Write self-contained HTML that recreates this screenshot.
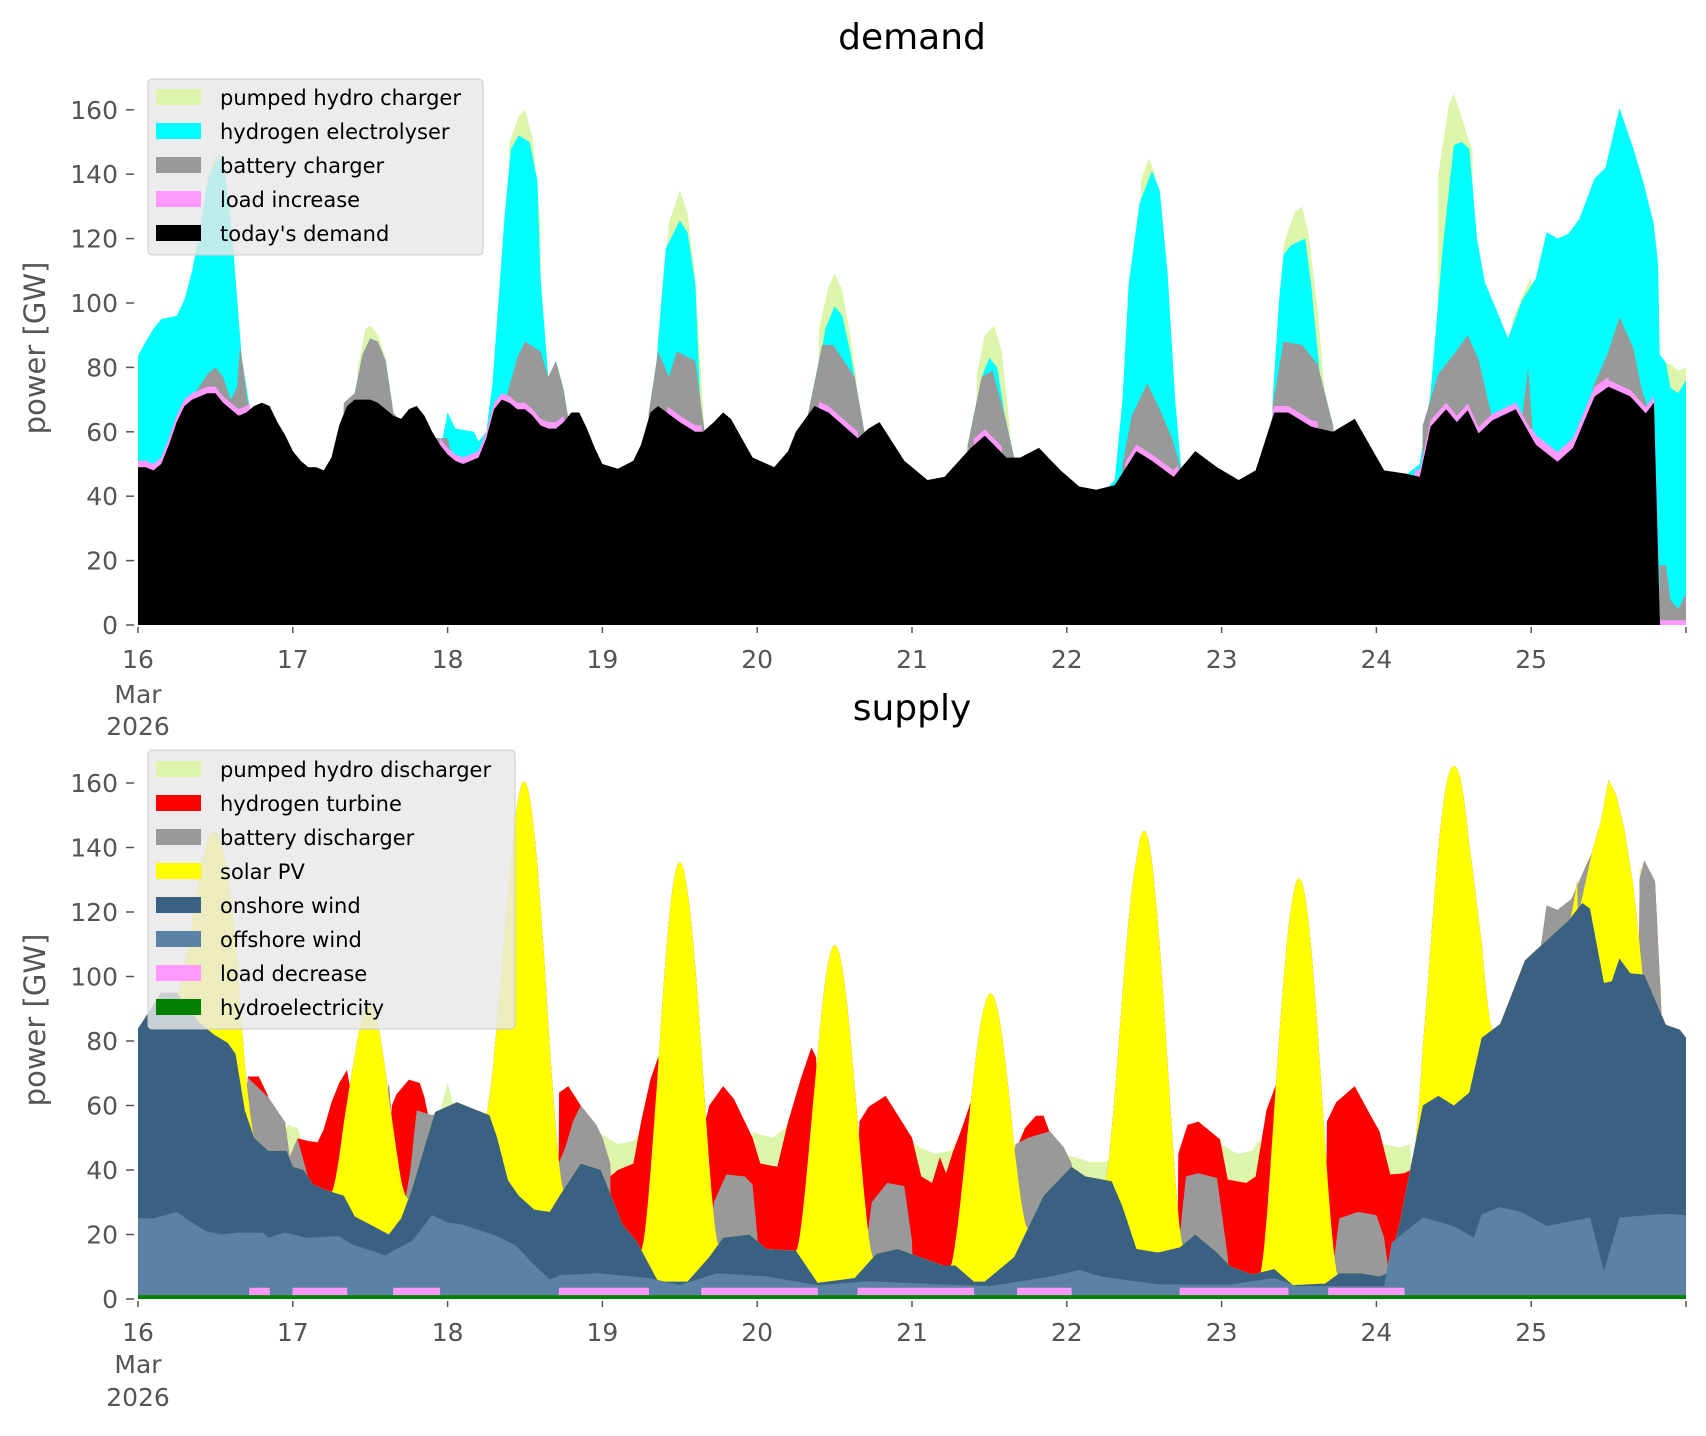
<!DOCTYPE html>
<html><head><meta charset="utf-8"><style>
html,body{margin:0;padding:0;background:#fff;}
svg text{font-family:"DejaVu Sans","Liberation Sans",sans-serif;}
</style></head><body>
<svg id="s" width="1706" height="1431" xmlns="http://www.w3.org/2000/svg">
<rect width="1706" height="1431" fill="#fff"/>
<g id="plots"></g>
<g id="axes" fill="#555" font-size="25"></g>
<text x="912" y="49" font-size="36" text-anchor="middle" fill="#000">demand</text>
<text x="912" y="720" font-size="36" text-anchor="middle" fill="#000">supply</text>
<text transform="translate(45,348) rotate(-90)" font-size="29" text-anchor="middle" fill="#555">power [GW]</text>
<text transform="translate(45,1020) rotate(-90)" font-size="29" text-anchor="middle" fill="#555">power [GW]</text>
<g id="leg" font-size="21" fill="#000"></g>
</svg>
<script>
const NS="http://www.w3.org/2000/svg";
const X=t=>138+(t-16)*154.8;
const YT=v=>625-v*3.22, YB=v=>1299-v*3.225;
function interp(p,t){if(t<p[0][0]||t>p[p.length-1][0])return null;for(let i=1;i<p.length;i++){if(t<=p[i][0]){const a=p[i-1],b=p[i];if(b[0]==a[0])return b[1];return a[1]+(b[1]-a[1])*(t-a[0])/(b[0]-a[0]);}}return p[p.length-1][1];}
function seg(S,t){let m=-1e9;for(const s of S){const v=interp(s,t);if(v!==null&&v>m)m=v;}return m;}
const D=[[16,49],[16.05,49],[16.1,48],[16.15,50],[16.2,56],[16.25,63],[16.3,68],[16.35,70],[16.4,71],[16.45,72],[16.5,72],[16.55,69],[16.6,67],[16.65,65],[16.7,66],[16.75,68],[16.8,69],[16.85,68],[16.9,63],[16.95,59],[17,54],[17.05,51],[17.1,49],[17.15,49],[17.2,48],[17.25,52],[17.3,62],[17.35,68],[17.4,70],[17.5,70],[17.55,69],[17.6,67],[17.65,65],[17.7,64],[17.75,67],[17.8,68],[17.85,65],[17.9,60],[17.95,56],[18,53],[18.05,51],[18.1,50],[18.15,51],[18.2,52],[18.25,58],[18.3,67],[18.35,70],[18.4,69],[18.45,67],[18.5,67],[18.55,65],[18.6,62],[18.65,61],[18.7,61],[18.75,63],[18.8,66],[18.85,66],[18.9,61],[18.95,55],[19,50],[19.1,48.5],[19.2,51],[19.25,56],[19.31,66],[19.36,68],[19.5,63],[19.6,60],[19.65,60],[19.72,63],[19.78,66],[19.83,64],[19.97,52],[20.11,49],[20.2,54],[20.25,60],[20.37,68],[20.46,66],[20.65,58],[20.72,61],[20.79,63],[20.95,51],[21.1,45],[21.21,46],[21.38,55],[21.47,58.8],[21.61,52],[21.7,52],[21.82,55],[21.96,48],[22.08,43],[22.19,42],[22.31,43.4],[22.45,54],[22.55,51],[22.69,46],[22.83,54],[22.97,49],[23.11,45],[23.22,48],[23.34,66],[23.43,66],[23.58,61.6],[23.72,60],[23.86,64],[24.05,48],[24.19,47],[24.28,46],[24.35,61.6],[24.45,67],[24.52,63],[24.59,66.7],[24.66,59.5],[24.75,63.6],[24.9,67],[25.03,56],[25.17,50.7],[25.27,55],[25.41,71],[25.5,74],[25.64,71],[25.74,65.7],[25.793,69],[25.832,0],[26,0]];
const PR=[[16,16.72],[17.95,18.75],[19.42,19.64],[20.4,20.65],[21.4,21.58],[22.38,22.72],[23.33,23.62],[24.25,25.83]];
const GD=[[[16.38,73],[16.45,78],[16.5,80],[16.55,77],[16.6,70],[16.64,74],[16.66,87],[16.7,72],[16.72,66]],[[17.33,69],[17.4,72],[17.45,84],[17.5,89],[17.55,88],[17.6,82],[17.65,66],[17.68,64]],[[17.88,60],[17.9,58],[18.0,58],[18.02,54]],[[18.38,71],[18.45,83],[18.5,88],[18.6,85],[18.65,77],[18.7,82],[18.75,73],[18.78,64]],[[19.3,66],[19.36,85],[19.43,77],[19.48,85],[19.6,82],[19.66,60]],[[20.33,66],[20.42,87],[20.49,87],[20.56,82],[20.63,77],[20.7,58]],[[21.36,56],[21.45,77],[21.52,79],[21.6,65],[21.66,52]],[[22.36,50],[22.42,65],[22.52,75],[22.6,67],[22.68,58],[22.74,48]],[[23.33,68],[23.4,88],[23.52,87],[23.62,81],[23.72,62]],[[24.3,62],[24.4,78],[24.5,84],[24.59,90],[24.66,82.5],[24.71,72],[24.75,64]],[[24.93,60],[24.98,80],[25.01,60]],[[25.4,74],[25.5,85],[25.57,95.6],[25.66,86],[25.71,74],[25.75,68]],[[25.83,18.6],[25.87,18.6],[25.9,7.8],[25.95,5],[26,9.7]]];
const CD=[[[16,83.6],[16.05,88],[16.1,92],[16.15,95],[16.25,96],[16.3,101],[16.35,110],[16.4,123],[16.45,138],[16.5,144],[16.55,145],[16.6,125],[16.62,114],[16.67,83],[16.72,68]],[[17.96,56],[18.0,66],[18.05,61],[18.17,60],[18.2,57],[18.25,60],[18.29,75],[18.34,108],[18.37,128],[18.41,148],[18.46,152],[18.53,150],[18.58,138],[18.6,108],[18.65,77],[18.69,64],[18.72,62]],[[19.33,70],[19.38,100],[19.41,117],[19.5,125.6],[19.55,122],[19.6,106],[19.64,60]],[[20.4,80],[20.44,92],[20.5,99],[20.55,96],[20.6,85],[20.63,77]],[[21.45,77],[21.5,83],[21.55,80],[21.6,65]],[[22.25,42],[22.31,45],[22.36,70],[22.4,106],[22.47,131],[22.55,141],[22.6,135],[22.65,110],[22.7,70],[22.74,48]],[[23.33,70],[23.37,100],[23.4,115],[23.45,118],[23.54,120],[23.58,105],[23.63,80],[23.68,62]],[[24.2,47],[24.28,50],[24.35,72],[24.43,118],[24.5,149],[24.55,150],[24.6,148],[24.65,120],[24.7,106.5],[24.8,95],[24.85,89],[24.94,100.8],[25.03,107.6],[25.1,122],[25.17,120],[25.24,121.5],[25.31,126],[25.41,138.7],[25.48,142],[25.57,160.5],[25.66,148],[25.73,136.5],[25.79,125],[25.82,112],[25.83,84],[25.87,81.5],[25.9,73.6],[25.95,72],[26,76]]];
const PD=[[[16.45,140],[16.5,146],[16.55,146],[16.6,126]],[[17.42,80],[17.47,92],[17.5,93],[17.55,90],[17.6,83],[17.65,66]],[[18.4,150],[18.46,158],[18.5,160],[18.55,151],[18.6,125]],[[19.36,88],[19.43,125],[19.5,135],[19.55,128],[19.6,108],[19.66,60]],[[20.4,92],[20.46,105],[20.5,109],[20.55,104],[20.6,90],[20.64,77]],[[21.42,78],[21.47,90],[21.53,93],[21.58,85],[21.63,62]],[[22.48,138],[22.53,145],[22.57,140],[22.62,120]],[[23.4,118],[23.47,128],[23.52,130],[23.56,122],[23.62,98],[23.68,65]],[[24.4,140],[24.47,162],[24.5,165],[24.55,158],[24.6,150],[24.62,148]],[[24.88,95],[24.95,103],[25.0,108]],[[25.86,82],[25.9,81],[25.95,79],[26,80]]];
// supply
const LDR=[[16.72,16.85],[17.0,17.35],[17.65,17.95],[18.72,19.3],[19.64,20.39],[20.65,21.4],[21.68,22.03],[22.73,23.43],[23.69,24.18]];
const OFF=[[16,25],[16.1,25],[16.25,27],[16.34,24],[16.44,21],[16.54,20],[16.64,20.6],[16.81,20.6],[16.84,19],[16.95,20.6],[17.08,19],[17.3,19.5],[17.38,17],[17.6,13.5],[17.65,15],[17.77,18],[17.9,26],[18.0,23.7],[18.1,23],[18.32,19.5],[18.44,16.6],[18.54,11.5],[18.66,6],[18.73,7.4],[18.97,8],[19.3,6.5],[19.5,4.3],[19.74,8],[20.06,7],[20.39,4.3],[20.72,5.5],[21.2,4.5],[21.5,4],[21.9,7],[22.08,9],[22.22,7],[22.59,4.5],[23.06,4.5],[23.34,6.5],[23.48,4],[24.05,4],[24.1,17.5],[24.3,25.3],[24.5,22.6],[24.63,19],[24.68,26.3],[24.8,28.5],[24.94,26.9],[25.1,22.6],[25.38,25.3],[25.47,8.6],[25.57,25.3],[25.87,26.4],[26,26]];
const ON=[[16,83.8],[16.15,95],[16.25,95],[16.39,86],[16.49,82],[16.58,79.4],[16.63,76],[16.69,58.5],[16.75,50],[16.84,46],[16.96,46],[17,41],[17.07,40],[17.13,35.6],[17.2,34],[17.33,32],[17.4,25.6],[17.48,23.6],[17.62,20],[17.7,25],[17.77,34],[17.85,47],[17.92,58],[18.06,61],[18.19,58.5],[18.27,57],[18.32,50],[18.39,36.8],[18.46,32],[18.56,27.7],[18.66,27],[18.73,32.5],[18.86,42],[18.99,40],[19.13,23],[19.22,18],[19.36,5.4],[19.55,5.4],[19.69,13],[19.78,19],[19.95,20],[20.06,15.5],[20.25,15],[20.39,5],[20.63,6.5],[20.77,14],[20.91,15.5],[21.05,13],[21.2,10.4],[21.28,10.4],[21.4,5.4],[21.47,5.4],[21.66,13],[21.85,32],[22.03,41],[22.12,38],[22.29,36.5],[22.36,28.6],[22.45,15.5],[22.59,14.4],[22.73,16],[22.83,20],[22.97,14.4],[23.06,10],[23.2,7.6],[23.34,9.3],[23.46,4.3],[23.67,4.8],[23.76,8],[23.9,8],[24.02,7],[24.07,8],[24.15,23.5],[24.3,60],[24.4,63],[24.5,60],[24.6,64],[24.68,81],[24.8,85.3],[24.96,105],[25.05,109],[25.24,117.3],[25.33,122.8],[25.38,121],[25.47,98],[25.52,98.5],[25.57,105.6],[25.64,101],[25.73,100.6],[25.87,85],[25.96,83.5],[26,81]];
const SOL=[63,68,130,130,104,88,130,126,105,58];
const SOL25=[[25.3,118],[25.4,140],[25.45,148],[25.5,161],[25.55,156],[25.6,146],[25.66,128],[25.7,110],[25.75,85]];
const BAT=[[[16.69,60],[16.71,68.6],[16.84,62.6],[16.95,54.8],[16.98,44],[17.03,49.8],[17.1,37.5],[17.13,35]],[[17.58,50],[17.62,67],[17.66,45],[17.7,34],[17.72,29],[17.76,40],[17.8,58.5],[17.9,57],[18.0,58.5],[18.05,60]],[[18.7,40],[18.76,47],[18.81,55],[18.86,60],[18.96,54],[19.0,50],[19.05,42]],[[19.68,15],[19.72,30],[19.8,38.6],[19.92,38],[19.97,35.5],[20.0,20]],[[20.7,15],[20.74,30],[20.84,36],[20.95,35],[21.0,18]],[[21.6,30],[21.67,48],[21.75,50],[21.89,52],[21.98,47],[22.03,42]],[[22.73,20],[22.77,38],[22.85,39],[22.97,37.5],[23.04,13]],[[23.72,10],[23.76,25],[23.88,27],[24.0,26],[24.05,19],[24.08,8]],[[25.05,105],[25.1,122],[25.17,120.6],[25.26,124],[25.36,135],[25.43,142],[25.45,140]],[[25.7,130],[25.73,136],[25.8,129.5],[25.84,90]]];
const RED=[[[16.71,69],[16.78,69],[16.84,63]],[[17.03,49.8],[17.1,49],[17.16,48.6],[17.2,52.6],[17.25,61],[17.3,67],[17.35,71],[17.39,60]],[[17.64,60],[17.67,63.5],[17.75,68],[17.82,67],[17.85,62.6],[17.87,58]],[[18.72,64],[18.78,66],[18.86,60],[18.9,56]],[[19.05,38],[19.1,40],[19.2,42],[19.25,55],[19.31,68],[19.36,75]],[[19.64,50],[19.69,60],[19.78,66],[19.85,62],[19.97,50],[20.02,42],[20.13,41],[20.2,55],[20.28,68],[20.35,78],[20.38,75]],[[20.66,55],[20.72,59.6],[20.83,63],[21.0,50],[21.06,38],[21.13,36],[21.18,44],[21.22,39],[21.26,45],[21.33,54],[21.4,64],[21.43,60]],[[21.66,45],[21.73,53],[21.8,56.8],[21.85,56.8],[21.91,49],[21.95,45]],[[22.72,45],[22.78,54],[22.85,55],[22.99,49.5],[23.04,37],[23.16,36],[23.22,38],[23.29,58.6],[23.36,67.5],[23.39,60]],[[23.68,55],[23.74,61],[23.86,66],[23.95,58],[24.02,52],[24.09,38.6],[24.18,39],[24.22,40]]];
const SPU=[[[16.92,50],[16.97,54],[17.03,53],[17.06,49]],[[17.95,58],[18.0,67],[18.04,60],[18.07,58]],[[18.98,50],[19.0,51],[19.1,48],[19.2,49],[19.25,52]],[[19.97,52],[20.02,51],[20.1,50],[20.18,53],[20.22,56]],[[20.98,50],[21.05,47],[21.15,45],[21.25,46],[21.3,50]],[[21.95,45],[22.05,44],[22.15,42.5],[22.25,42.5],[22.3,44]],[[22.95,50],[23.0,48],[23.1,45],[23.2,46],[23.25,50]],[[24.0,50],[24.05,48],[24.15,47],[24.22,48]],[[25.7,134],[25.78,130],[25.84,95]]];
const N=4000, T=[];for(let i=0;i<=N;i++)T.push(16+10*i/N);
const L={bk:[],pk:[],gr:[],cy:[],pu:[],hy:[],ld:[],of:[],on:[],so:[],ba:[],re:[],sp:[]};
for(const t of T){
 const bk=interp(D,t);
 let pk=bk; if(t>25.83)pk=1.5; else for(const r of PR){if(t>=r[0]&&t<=r[1]){pk=bk+(t>25&&t<25.5?3:2);break;}}
 const gr=Math.max(pk,seg(GD,t)), cy=Math.max(gr,seg(CD,t)), pu=Math.max(cy,seg(PD,t));
 L.bk.push(bk);L.pk.push(pk);L.gr.push(gr);L.cy.push(cy);L.pu.push(pu);
 const hy=1.2; let ld=hy; for(const r of LDR){if(t>=r[0]&&t<=r[1]){ld=3.5;break;}}
 const of=Math.max(ld,interp(OFF,t)), on=Math.max(of,interp(ON,t));
 const d=Math.min(9,Math.floor(t-16)), f=t-16-d; const b=Math.max(0,Math.cos(2*Math.PI*(f-0.5)));
 let so=on+SOL[d]*Math.pow(b,1.5);
 const s25=interp(SOL25,t); if(s25!==null) so=Math.max(on,s25);
 const ba=Math.max(so,seg(BAT,t)), re=Math.max(ba,seg(RED,t)), sp=Math.max(re,seg(SPU,t));
 L.hy.push(hy);L.ld.push(ld);L.of.push(of);L.on.push(on);L.so.push(so);L.ba.push(ba);L.re.push(re);L.sp.push(sp);
}
const g=document.getElementById('plots');
function area(arr,Y,col){let d='M'+X(16).toFixed(1)+','+Y(0).toFixed(1);for(let i=0;i<T.length;i++)d+='L'+X(T[i]).toFixed(1)+','+Y(arr[i]).toFixed(1);d+='L'+X(26).toFixed(1)+','+Y(0).toFixed(1)+'Z';const p=document.createElementNS(NS,'path');p.setAttribute('d',d);p.setAttribute('fill',col);g.appendChild(p);}
const PUC='#dcf5ab';
area(L.pu,YT,PUC);area(L.cy,YT,'#00ffff');area(L.gr,YT,'#999999');area(L.pk,YT,'#ff99ff');area(L.bk,YT,'#000000');
area(L.sp,YB,PUC);area(L.re,YB,'#ff0000');area(L.ba,YB,'#999999');area(L.so,YB,'#ffff00');area(L.on,YB,'#3a6182');area(L.of,YB,'#5b82a4');area(L.ld,YB,'#ff99ff');area(L.hy,YB,'#008000');
const ax=document.getElementById('axes');
function el(tag,at,txt){const e=document.createElementNS(NS,tag);for(const k in at)e.setAttribute(k,at[k]);if(txt!==undefined)e.textContent=txt;ax.appendChild(e);return e;}
for(const [Y,y0,lab] of [[YT,625,[668,703,735]],[YB,1299,[1341,1373,1406]]]){
 for(let v=0;v<=160;v+=20){const y=Y(v);el('line',{x1:126,x2:134,y1:y,y2:y,stroke:'#555','stroke-width':1.5});el('text',{x:118,y:y+9,'text-anchor':'end'},String(v));}
 for(let d=16;d<=26;d++){const x=X(d);el('line',{x1:x,x2:x,y1:y0+2,y2:y0+8,stroke:'#555','stroke-width':1.5});if(d<26)el('text',{x:x,y:lab[0],'text-anchor':'middle'},String(d));}
 el('text',{x:X(16),y:lab[1],'text-anchor':'middle'},'Mar');el('text',{x:X(16),y:lab[2],'text-anchor':'middle'},'2026');
}
const lg=document.getElementById('leg');
function legend(x,y,w,h,items,y1){const r=document.createElementNS(NS,'rect');Object.entries({x,y,width:w,height:h,rx:4,fill:'rgba(232,232,232,0.82)',stroke:'#cccccc'}).forEach(([k,v])=>r.setAttribute(k,v));lg.appendChild(r);
 items.forEach((it,i)=>{const cy=y1+i*34;const p=document.createElementNS(NS,'rect');p.setAttribute('x',156);p.setAttribute('y',cy-8);p.setAttribute('width',45);p.setAttribute('height',16);p.setAttribute('fill',it[1]);lg.appendChild(p);const t=document.createElementNS(NS,'text');t.setAttribute('x',220);t.setAttribute('y',cy+8);t.textContent=it[0];lg.appendChild(t);});}
legend(148,79,335,176,[["pumped hydro charger",PUC],["hydrogen electrolyser","#00ffff"],["battery charger","#999999"],["load increase","#ff99ff"],["today's demand","#000000"]],97);
legend(148,750,367,279,[["pumped hydro discharger",PUC],["hydrogen turbine","#ff0000"],["battery discharger","#999999"],["solar PV","#ffff00"],["onshore wind","#3a6182"],["offshore wind","#5b82a4"],["load decrease","#ff99ff"],["hydroelectricity","#008000"]],769);
</script>
</body></html>
